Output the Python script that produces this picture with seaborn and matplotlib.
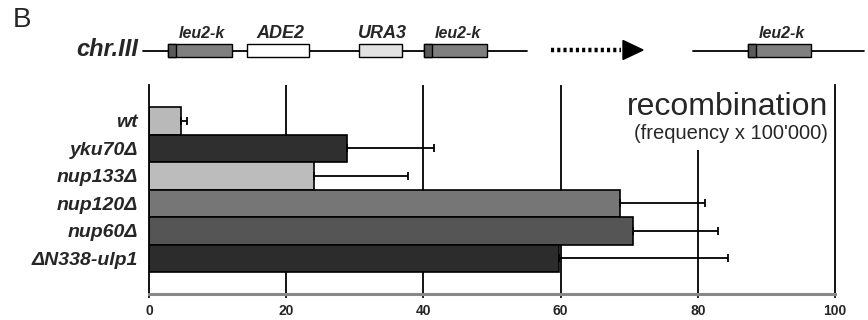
import numpy as np
import pandas as pd
import seaborn as sns
import matplotlib.pyplot as plt
from matplotlib.patches import Rectangle, Polygon

# data
strains = ['wt', 'yku70Δ', 'nup133Δ', 'nup120Δ', 'nup60Δ', 'ΔN338-ulp1']
freq = [4.6, 28.8, 24.1, 68.7, 70.6, 59.8]
err = [1.0, 12.7, 13.7, 12.3, 12.4, 24.6]
bar_colors = ['#b9b9b9', '#2f2f2f', '#bcbcbc', '#767676', '#555555', '#2c2c2c']
xticks = [0, 20, 40, 60, 80, 100]

# schematic of chr.III (pixel layout)
genes = ['leu2-k', 'ADE2', 'URA3', 'leu2-k', 'leu2-k']
gene_x = [(168, 232), (247, 309), (359, 402), (424, 487), (748, 811)]
gene_fill = ['#7f7f7f', '#ffffff', '#e2e2e2', '#7f7f7f', '#7f7f7f']
gene_fs = [11.5, 13, 13, 11.5, 11.5]

sns.set_theme(style='white')
plt.rcParams['font.family'] = ['Liberation Sans', 'DejaVu Sans']

fig = plt.figure(figsize=(8.68, 3.2), dpi=100)

# --- top schematic ---
ax0 = fig.add_axes([0, 0, 1, 1], zorder=0)
ax0.set_xlim(0, 868)
ax0.set_ylim(320, 0)
ax0.axis('off')
ax0.text(13, 20, 'B', fontsize=20, va='center', ha='left')
ax0.text(138, 49, 'chr.III', fontsize=17, fontweight='bold', style='italic',
         va='center', ha='right')
ax0.plot([143, 527], [51, 51], color='black', lw=1.3)
ax0.plot([693, 864], [51, 51], color='black', lw=1.3)
for g, (x0, x1), c, fs in zip(genes, gene_x, gene_fill, gene_fs):
    ax0.add_patch(Rectangle((x0, 43.5), x1 - x0, 13.5, facecolor=c,
                            edgecolor='black', lw=1, zorder=3))
    if g == 'leu2-k':
        ax0.add_patch(Rectangle((x0, 43.5), 8, 13.5, facecolor='#5a5a5a',
                                edgecolor='black', lw=1, zorder=4))
    ax0.text((x0 + x1) / 2 + 2, 33.5, g, fontsize=fs, style='italic',
             fontweight='bold', ha='center', va='center')
ax0.plot([551, 621], [50, 50], color='black', lw=3.2, linestyle=(0, (0.7, 0.7)))
ax0.add_patch(Polygon([[623, 40.5], [643, 50], [623, 59.5]], closed=True,
                      facecolor='black', edgecolor='black'))

# --- bar chart ---
ax = fig.add_axes([149 / 868, 26 / 320, 686 / 868, 209 / 320], zorder=1)
ax.patch.set_alpha(0)
df = pd.DataFrame({'strain': strains, 'freq': freq})
sns.barplot(data=df, x='freq', y='strain', hue='strain', palette=bar_colors,
            legend=False, orient='h', width=1.0, edgecolor='black',
            linewidth=1.2, ax=ax, zorder=2)
ax.errorbar(freq, np.arange(len(strains)), xerr=[np.zeros(len(err)), err],
            fmt='none', ecolor='black', elinewidth=1.3, capsize=3,
            capthick=1.3, zorder=3)
for v in xticks[1:-1]:
    ax.axvline(v, color='black', lw=1.3, zorder=0.5)

ax.set_xlim(0, 100)
ax.set_ylim(6.3, -1.3)
ax.set_xticks(xticks)
ax.set_xticklabels([str(t) for t in xticks], fontsize=10, fontweight='bold',
                   family=['Liberation Sans Narrow', 'Liberation Sans'])
ax.tick_params(axis='x', direction='out', length=3, width=1.2, color='black',
               pad=4, bottom=True)
ax.tick_params(axis='y', length=0, pad=8)
for lab in ax.get_yticklabels():
    lab.set_fontsize(14)
    lab.set_fontweight('bold')
    lab.set_style('italic')
ax.set_xlabel('')
ax.set_ylabel('')
ax.spines['top'].set_visible(False)
ax.spines['left'].set_color('black')
ax.spines['left'].set_linewidth(1.3)
ax.spines['right'].set_color('black')
ax.spines['right'].set_linewidth(1.3)
ax.spines['bottom'].set_color('#888888')
ax.spines['bottom'].set_linewidth(2.2)

# white panel behind the label (hides top of the 80 gridline)
ax.add_patch(Rectangle((66, -1.3), 33.6, 2.35, facecolor='white',
                       edgecolor='none', zorder=4))
ax.text(99, -0.21, 'recombination', fontsize=23, ha='right', va='baseline',
        zorder=5)
ax.text(99, 0.66, "(frequency x 100'000)", fontsize=14.5, ha='right',
        va='baseline', zorder=5)

fig.savefig('out.png', dpi=100)
